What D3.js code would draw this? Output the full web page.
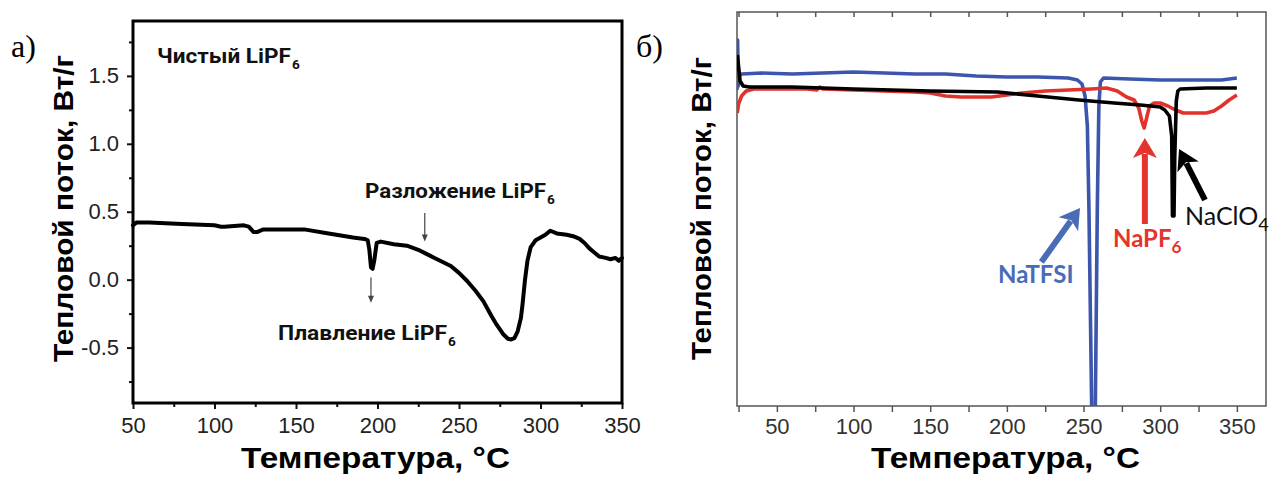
<!DOCTYPE html>
<html>
<head>
<meta charset="utf-8">
<script src="https://cdn.jsdelivr.net/npm/d3@7"></script>
<style>
  body { margin: 0; background: #fff; }
  svg { display: block; }
</style>
</head>
<body>
<svg id="chart" width="1269" height="478"></svg>
<script>
// ---- Panel а: pure LiPF6, heat flow (W/g) vs temperature (°C) ----
const lipf6T = [50, 52, 60, 80, 100, 104, 106, 118, 121, 124, 126, 130, 140, 155, 170, 185, 192, 194, 195, 196,
  197, 198, 199.5, 202, 210, 218, 225, 230, 235, 240, 245, 250, 255, 260, 265, 270, 273, 277, 280, 282,
  284, 286, 288, 289, 290.5, 292, 294, 297, 300, 303, 306, 310, 316, 320, 324, 327, 330, 333, 336, 340,
  343, 346, 348, 350];
const lipf6Flow = [0.40, 0.42, 0.42, 0.41, 0.40, 0.39, 0.39, 0.40, 0.39, 0.35, 0.35, 0.37, 0.37, 0.37, 0.34, 0.31, 0.30, 0.29, 0.22, 0.09,
  0.08, 0.14, 0.27, 0.28, 0.26, 0.25, 0.22, 0.19, 0.16, 0.13, 0.10, 0.05, -0.01, -0.08, -0.16, -0.27, -0.33, -0.40, -0.435, -0.44,
  -0.43, -0.38, -0.28, -0.18, 0.0, 0.14, 0.24, 0.29, 0.31, 0.33, 0.36, 0.34, 0.33, 0.32, 0.30, 0.27, 0.23, 0.20, 0.17, 0.16,
  0.15, 0.16, 0.14, 0.16];
const lipf6XTicks = [50, 100, 150, 200, 250, 300, 350];
const lipf6XMinor = [75, 125, 175, 225, 275, 325];
const lipf6YTicks = [-0.5, 0.0, 0.5, 1.0, 1.5];
const lipf6YMinor = [-0.75, -0.25, 0.25, 0.75, 1.25, 1.75];

// ---- Panel б: sodium salts, heat flow in arbitrary units ----
const natfsiT = [24.0, 24.4, 24.8, 25.5, 27, 40, 60, 80, 100, 120, 140, 160, 180, 200, 220, 240, 246, 249, 251, 252.5,
  253.5, 255.3, 256, 257, 257.7, 259, 260, 261, 263, 280, 300, 320, 340, 350];
const natfsiFlow = [31.6, 36.6, 32.0, 33.0, 33.2, 33.3, 33.2, 33.3, 33.4, 33.3, 33.2, 33.2, 33.0, 32.9, 32.9, 32.8, 32.6, 32.2, 31.0, 28.0,
  20.0, 0.0, -5.0, -5.0, 0.0, 20.0, 30.0, 32.4, 32.8, 32.7, 32.6, 32.6, 32.6, 32.8];

const napf6T = [24.2, 25, 27, 30, 35, 50, 70, 76, 78, 80, 100, 120, 140, 150, 160, 170, 190, 200, 210, 225,
  240, 255, 265, 272, 278, 283, 286, 288, 289.5, 291, 293, 296, 300, 305, 310, 315, 320, 330, 335, 340,
  345, 350];
const napf6Flow = [29.3, 30.2, 31.0, 31.5, 31.7, 31.7, 31.7, 31.6, 31.9, 31.7, 31.6, 31.5, 31.4, 31.3, 31.0, 30.9, 30.9, 31.1, 31.3, 31.5,
  31.6, 31.7, 31.8, 31.5, 30.9, 30.6, 29.8, 28.5, 27.8, 28.7, 30.0, 30.3, 30.3, 30.0, 29.6, 29.3, 29.3, 29.3, 29.5, 30.0,
  30.6, 31.1];

const naclo4T = [24.3, 25, 26, 28, 32, 40, 60, 80, 100, 150, 194, 220, 247, 270, 287, 300, 303, 306, 307.5, 308,
  309, 309.5, 310.5, 311.5, 313, 330, 350];
const naclo4Flow = [35.1, 34.0, 32.5, 32.0, 31.9, 31.9, 31.9, 31.8, 31.7, 31.5, 31.4, 31.0, 30.6, 30.3, 30.1, 29.9, 29.6, 29.0, 27.0, 19.0,
  19.0, 25.0, 30.5, 31.5, 31.7, 31.8, 31.8];

const saltXTicks = [50, 100, 150, 200, 250, 300, 350];
const saltXAll = [25, 50, 75, 100, 125, 150, 175, 200, 225, 250, 275, 300, 325, 350];

const yTitle = "Тепловой поток, Вт/г";
const xTitle = "Температура, °С";

const svg = d3.select("#chart");
const narrow = "'Liberation Sans Narrow', 'Arial Narrow', Roboto, sans-serif";
const sans = "'Liberation Sans', Arial, sans-serif";
const calib = "Lato, 'Open Sans', sans-serif";

// ================= Panel а =================
const xa = d3.scaleLinear().domain([50, 350]).range([133, 622]);
const ya = d3.scaleLinear().domain([-0.908, 1.904]).range([403, 21]);
const ga = svg.append("g");

// minor ticks
ga.append("g").attr("transform", `translate(0,${ya.range()[0]})`)
  .call(d3.axisBottom(xa).tickValues(lipf6XMinor).tickSize(4).tickFormat(""))
  .call(g => g.select(".domain").remove())
  .call(g => g.selectAll("line").attr("stroke", "#111").attr("stroke-width", 2));
ga.append("g").attr("transform", `translate(${xa.range()[0]},0)`)
  .call(d3.axisLeft(ya).tickValues(lipf6YMinor).tickSize(4).tickFormat(""))
  .call(g => g.select(".domain").remove())
  .call(g => g.selectAll("line").attr("stroke", "#111").attr("stroke-width", 2));

// major ticks and labels
ga.append("g").attr("transform", `translate(0,${ya.range()[0]})`)
  .call(d3.axisBottom(xa).tickValues(lipf6XTicks).tickSize(6).tickPadding(8).tickFormat(d3.format("d")))
  .call(g => g.select(".domain").remove())
  .call(g => g.selectAll("line").attr("stroke", "#111").attr("stroke-width", 2))
  .call(g => g.selectAll("text").attr("font-family", sans).attr("font-size", 22).attr("fill", "#222"));
ga.append("g").attr("transform", `translate(${xa.range()[0]},0)`)
  .call(d3.axisLeft(ya).tickValues(lipf6YTicks).tickSize(6).tickPadding(8).tickFormat(d => d.toFixed(1)))
  .call(g => g.select(".domain").remove())
  .call(g => g.selectAll("line").attr("stroke", "#111").attr("stroke-width", 2))
  .call(g => g.selectAll("text").attr("font-family", sans).attr("font-size", 22).attr("fill", "#222"));

// frame
ga.append("rect")
  .attr("x", xa.range()[0]).attr("y", ya.range()[1])
  .attr("width", xa.range()[1] - xa.range()[0]).attr("height", ya.range()[0] - ya.range()[1])
  .attr("fill", "none").attr("stroke", "#000").attr("stroke-width", 3);

// DSC trace
const lipf6Data = lipf6T.map((t, i) => [t, lipf6Flow[i]]);
ga.append("path")
  .datum(lipf6Data)
  .attr("fill", "none").attr("stroke", "#000").attr("stroke-width", 4)
  .attr("stroke-linejoin", "round").attr("stroke-linecap", "round")
  .attr("d", d3.line().x(d => xa(d[0])).y(d => ya(d[1])));

// labelled text with trailing subscript
function subLabel(g, x, y, main, sub, width, size, weight, family, color) {
  g.append("text").attr("x", x).attr("y", y)
    .attr("font-family", family).attr("font-size", size).attr("font-weight", weight)
    .attr("fill", color).attr("textLength", width).attr("lengthAdjust", "spacingAndGlyphs")
    .text(main);
  g.append("text").attr("x", x + width + 1).attr("y", y + size * 0.28)
    .attr("font-family", family).attr("font-size", size * 0.68).attr("font-weight", weight)
    .attr("fill", color).text(sub);
}
subLabel(ga, 157, 63, "Чистый LiPF", "6", 134, 20, "bold", narrow, "#111");
subLabel(ga, 365, 198, "Разложение LiPF", "6", 181, 20, "bold", narrow, "#111");
subLabel(ga, 278, 340, "Плавление LiPF", "6", 169, 20, "bold", narrow, "#111");

// thin pointer arrows
function thinArrow(g, x, y1, y2) {
  g.append("line").attr("x1", x).attr("x2", x).attr("y1", y1).attr("y2", y2 - 5)
    .attr("stroke", "#444").attr("stroke-width", 1.2);
  g.append("path").attr("d", `M${x - 3},${y2 - 7} L${x + 3},${y2 - 7} L${x},${y2} Z`).attr("fill", "#444");
}
thinArrow(ga, xa(229), ya(0.49), ya(0.28));
thinArrow(ga, xa(196), ya(0.015), ya(-0.17));

// titles
ga.append("text")
  .attr("transform", `translate(73,${(55 + 362) / 2}) rotate(-90)`)
  .attr("text-anchor", "middle")
  .attr("font-family", sans).attr("font-weight", "bold").attr("font-size", 28)
  .attr("textLength", 307).attr("lengthAdjust", "spacingAndGlyphs")
  .text(yTitle);
ga.append("text")
  .attr("x", 241).attr("y", 468)
  .attr("font-family", sans).attr("font-weight", "bold").attr("font-size", 30)
  .attr("textLength", 269).attr("lengthAdjust", "spacingAndGlyphs")
  .text(xTitle);
ga.append("text").attr("x", 11).attr("y", 57)
  .attr("font-family", "'Liberation Serif', 'Times New Roman', serif").attr("font-size", 32)
  .text("а)");

// ================= Panel б =================
const xb = d3.scaleLinear().domain([24, 369]).range([737, 1266]);
const yb = d3.scaleLinear().domain([0, 39.4]).range([406, 12]);
const gb = svg.append("g");

gb.append("clipPath").attr("id", "clipB").append("rect")
  .attr("x", xb.range()[0]).attr("y", yb.range()[1])
  .attr("width", xb.range()[1] - xb.range()[0]).attr("height", yb.range()[0] - yb.range()[1]);

// bottom axis
gb.append("g").attr("transform", `translate(0,${yb.range()[0]})`)
  .call(d3.axisBottom(xb).tickValues(saltXAll).tickSize(6).tickFormat(""))
  .call(g => g.select(".domain").remove())
  .call(g => g.selectAll("line").attr("stroke", "#555").attr("stroke-width", 1.5));
gb.append("g").attr("transform", `translate(0,${yb.range()[0]})`)
  .call(d3.axisBottom(xb).tickValues(saltXTicks).tickSize(0).tickPadding(12).tickFormat(d3.format("d")))
  .call(g => g.select(".domain").remove())
  .call(g => g.selectAll("text").attr("font-family", sans).attr("font-size", 22).attr("fill", "#333"));
// top axis ticks (inward)
gb.append("g").attr("transform", `translate(0,${yb.range()[1]})`)
  .call(d3.axisBottom(xb).tickValues(saltXAll).tickSize(5).tickFormat(""))
  .call(g => g.select(".domain").remove())
  .call(g => g.selectAll("line").attr("stroke", "#555").attr("stroke-width", 1.5));

// frame
gb.append("rect")
  .attr("x", xb.range()[0]).attr("y", yb.range()[1])
  .attr("width", xb.range()[1] - xb.range()[0]).attr("height", yb.range()[0] - yb.range()[1])
  .attr("fill", "none").attr("stroke", "#555").attr("stroke-width", 1.5);

const lineB = d3.line().x(d => xb(d[0])).y(d => yb(d[1]));
const traces = [
  { t: natfsiT, v: natfsiFlow, color: "#3c55ad" },
  { t: napf6T, v: napf6Flow, color: "#e3312b" },
  { t: naclo4T, v: naclo4Flow, color: "#000" }
];
const gTr = gb.append("g").attr("clip-path", "url(#clipB)");
traces.forEach(s => {
  gTr.append("path")
    .datum(s.t.map((t, i) => [t, s.v[i]]))
    .attr("fill", "none").attr("stroke", s.color).attr("stroke-width", 3.6)
    .attr("stroke-linejoin", "round")
    .attr("d", lineB);
});

// thick annotation arrows (data coordinates: tail -> tip)
function thickArrow(g, t0, v0, t1, v1, color) {
  const x0 = xb(t0), y0 = yb(v0), x1 = xb(t1), y1 = yb(v1);
  const ang = Math.atan2(y1 - y0, x1 - x0);
  const hl = 20, hw = 12;
  const bx = x1 - hl * Math.cos(ang), by = y1 - hl * Math.sin(ang);
  g.append("line").attr("x1", x0).attr("y1", y0).attr("x2", bx + 4 * Math.cos(ang)).attr("y2", by + 4 * Math.sin(ang))
    .attr("stroke", color).attr("stroke-width", 6);
  const px = -Math.sin(ang), py = Math.cos(ang);
  g.append("path")
    .attr("d", `M${x1},${y1} L${bx + hw * px},${by + hw * py} L${bx + 5 * Math.cos(ang)},${by + 5 * Math.sin(ang)} L${bx - hw * px},${by - hw * py} Z`)
    .attr("fill", color);
}
thickArrow(gb, 222.5, 14.4, 247.7, 19.8, "#4a6cb6");
thickArrow(gb, 290, 18.2, 290, 26.8, "#e3352e");
thickArrow(gb, 329.2, 20.6, 312.3, 25.7, "#000");

function saltLabel(g, t, v, main, sub, size, weight, color) {
  const tx = g.append("text").attr("x", xb(t)).attr("y", yb(v))
    .attr("font-family", calib).attr("font-size", size).attr("font-weight", weight).attr("fill", color);
  tx.append("tspan").text(main);
  if (sub) tx.append("tspan").attr("dy", size * 0.25).attr("font-size", size * 0.72).text(sub);
}
saltLabel(gb, 194.2, 12.3, "NaTFSI", null, 24, "bold", "#4a6cb6");
saltLabel(gb, 269.2, 15.9, "NaPF", "6", 24, "bold", "#e3352e");
saltLabel(gb, 316.2, 18.1, "NaClO", "4", 25, "normal", "#111");

// titles
gb.append("text")
  .attr("transform", `translate(711,${(57 + 360) / 2}) rotate(-90)`)
  .attr("text-anchor", "middle")
  .attr("font-family", sans).attr("font-weight", "bold").attr("font-size", 28)
  .attr("textLength", 303).attr("lengthAdjust", "spacingAndGlyphs")
  .text(yTitle);
gb.append("text")
  .attr("x", 871).attr("y", 468)
  .attr("font-family", sans).attr("font-weight", "bold").attr("font-size", 30)
  .attr("textLength", 269).attr("lengthAdjust", "spacingAndGlyphs")
  .text(xTitle);
gb.append("text").attr("x", 636).attr("y", 57)
  .attr("font-family", "'Liberation Serif', 'Times New Roman', serif").attr("font-size", 32)
  .text("б)");
</script>
</body>
</html>
